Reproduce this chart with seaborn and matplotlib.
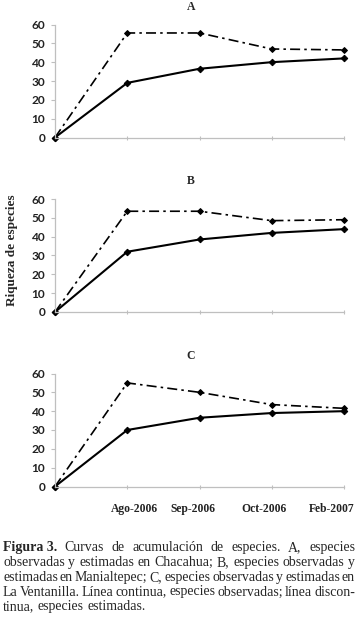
import matplotlib
matplotlib.use("Agg")
import matplotlib.pyplot as plt
import seaborn as sns
import pandas as pd

# ---- data ----
months = ["", "Ago-2006", "Sep-2006", "Oct-2006", "Feb-2007"]
panels = ["A", "B", "C"]
obs_A = [0, 29, 36.5, 40, 42]
est_A = [0, 55.5, 55.5, 47, 46.5]
obs_B = [0, 32, 38.5, 42, 44]
est_B = [0, 53.5, 53.5, 48.5, 49]
obs_C = [0, 30, 36.5, 39, 40]
est_C = [0, 55, 50, 43.5, 41.5]
yticks = [0, 10, 20, 30, 40, 50, 60]
ylabel = "Riqueza de especies"

caption_lines = [
    [("Figura 3.", "bold"), ("Curvas", "normal"), ("de", "normal"), ("acumulación", "normal"),
     ("de", "normal"), ("especies.", "normal"), ("A,", "normal"), ("especies", "normal")],
    "observadas y estimadas en Chacahua; B, especies observadas y",
    "estimadas en Manialtepec; C, especies observadas y estimadas en",
    "La Ventanilla.  Línea continua, especies observadas; línea discon-",
    "tinua, especies estimadas.",
]

sns.set_theme(style="white")
plt.rcParams["font.family"] = ["Liberation Serif", "DejaVu Sans"]

W, H = 360, 620
fig = plt.figure(figsize=(W / 100, H / 100), dpi=100)

boxes = [(137.5, 24.5), (312, 199), (486.5, 373.5)]
x_left, x_right = 55, 344
series = [(obs_A, est_A), (obs_B, est_B), (obs_C, est_C)]
xs = list(range(len(months)))
grey = "#bfbfbf"

axes = []
for i, ((y0, y60), (obs, est)) in enumerate(zip(boxes, series)):
    ax = fig.add_axes([x_left / W, 1 - y0 / H, (x_right - x_left) / W, (y0 - y60) / H])
    axes.append(ax)
    df = pd.DataFrame({"x": xs, "obs": obs, "est": est})
    sns.lineplot(data=df, x="x", y="est", ax=ax, color="black", marker="D",
                 markersize=3.0, linewidth=1.2, linestyle=(0, (6, 2.5, 1.5, 2.5)),
                 markeredgecolor="black", clip_on=False)
    sns.lineplot(data=df, x="x", y="obs", ax=ax, color="black", marker="D",
                 markersize=3.3, linewidth=1.5, markeredgecolor="black", clip_on=False)
    ax.set_xlim(0, len(months) - 1)
    ax.set_ylim(0, 60)
    ax.set_yticks(yticks)
    ax.set_yticklabels([str(t) for t in yticks], family="Lato", fontsize=8.6,
                       color="#222222", weight="bold")
    ax.set_xticks(xs)
    ax.set_xticklabels([])
    ax.tick_params(axis="y", length=3, width=0.8, color=grey, pad=4, left=True)
    ax.tick_params(axis="x", length=3, width=0.8, color=grey, direction="inout", bottom=True)
    ax.set_xlabel("")
    ax.set_ylabel("")
    for s in ["top", "right"]:
        ax.spines[s].set_visible(False)
    for s in ["left", "bottom"]:
        ax.spines[s].set_color(grey)
        ax.spines[s].set_linewidth(0.9)
    ax.set_title(panels[i], fontsize=8.5, weight="bold", pad=10.5, x=0.47,
                 family="Liberation Serif")
    ax.patch.set_alpha(0)

label_pos = [None, 1.10, 1.91, 2.89, 3.83]
for xp, lab in zip(label_pos, months):
    if lab:
        axes[2].text(xp, -12.2, lab, ha="center", va="center", fontsize=8.4,
                     weight="bold", family="Liberation Serif", color="#222222")

fig.text(12 / W, 1 - 250 / H, ylabel, rotation=90, ha="center", va="center",
         fontsize=9.5, weight="bold", family="Liberation Serif")

# justified caption
fig.canvas.draw()
renderer = fig.canvas.get_renderer()
cap_size = 10.0
left_px, right_px = 3, 355
baseline_y = [551, 566, 581, 595.5, 610]

def tokens(line):
    if isinstance(line, str):
        return [(w, "normal") for w in line.split(" ") if w != ""]
    return line

for li, line in enumerate(caption_lines):
    toks = tokens(line)
    texts = []
    widths = []
    for w, wt in toks:
        t = fig.text(0, 0, w, fontsize=cap_size, weight=wt, family="Liberation Serif",
                     ha="left", va="baseline")
        bb = t.get_window_extent(renderer)
        texts.append(t)
        widths.append(bb.width)
    last = li == len(caption_lines) - 1
    space = 3.4
    if not last and len(toks) > 1:
        gap = (right_px - left_px - sum(widths)) / (len(toks) - 1)
    else:
        gap = space
    x = left_px
    for t, wdt in zip(texts, widths):
        t.set_position((x / W, 1 - baseline_y[li] / H))
        x += wdt + gap

fig.savefig("out.png", dpi=100, facecolor="white")
